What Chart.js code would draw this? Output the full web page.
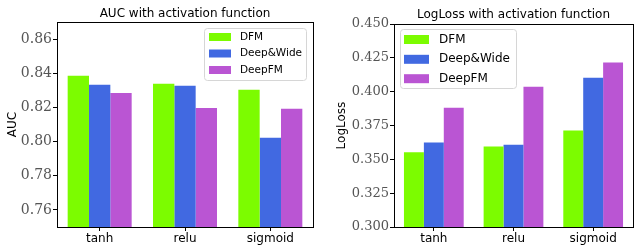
<!DOCTYPE html>
<html>
<head>
<meta charset="utf-8">
<script src="https://cdn.jsdelivr.net/npm/chart.js@4.4.0/dist/chart.umd.min.js"></script>
<style>
  html, body { margin: 0; padding: 0; background: #fff; }
  .box { position: absolute; top: 0; width: 320px; height: 246px; }
</style>
</head>
<body>
<div class="box" style="left:0"><canvas id="auc"></canvas></div>
<div class="box" style="left:320px"><canvas id="loss"></canvas></div>
<script>
var categories = ["tanh", "relu", "sigmoid"];
var seriesNames = ["DFM", "Deep&Wide", "DeepFM"];
var seriesColors = ["#7CFC00", "#4169E1", "#BA55D3"];

var aucDFM = [0.8385, 0.8338, 0.8303];
var aucDeepWide = [0.8332, 0.8327, 0.8023];
var aucDeepFM = [0.8285, 0.8197, 0.8192];
var aucTicks = [0.76, 0.78, 0.80, 0.82, 0.84, 0.86];

var lossDFM = [0.3552, 0.3594, 0.3713];
var lossDeepWide = [0.3624, 0.3608, 0.4103];
var lossDeepFM = [0.3882, 0.4037, 0.4216];
var lossTicks = [0.300, 0.325, 0.350, 0.375, 0.400, 0.425, 0.450];

Chart.defaults.font.family = "'DejaVu Sans', sans-serif";
Chart.defaults.color = "#000";

// matplotlib style frame + legend inside the axes
var framePlugin = {
  id: "frame",
  afterDraw: function (chart, args, opts) {
    var ctx = chart.ctx, a = chart.chartArea;
    ctx.save();
    ctx.strokeStyle = "#000";
    ctx.lineWidth = 1;
    ctx.strokeRect(Math.round(a.left) + 0.5, Math.round(a.top) + 0.5,
      Math.round(a.right - a.left), Math.round(a.bottom - a.top));

    var L = opts.legend;
    ctx.fillStyle = "rgba(255,255,255,0.8)";
    ctx.strokeStyle = "#d6d6d6";
    ctx.beginPath();
    ctx.roundRect(L.x + 0.5, L.y + 0.5, L.w, L.h, 3);
    ctx.fill();
    ctx.stroke();
    ctx.font = L.font + "px 'DejaVu Sans'";
    ctx.textBaseline = "middle";
    chart.data.datasets.forEach(function (ds, i) {
      var cy = L.rows[i];
      ctx.fillStyle = ds.backgroundColor;
      ctx.fillRect(L.sx, cy - L.sh / 2, L.sw, L.sh);
      ctx.fillStyle = "#000";
      ctx.fillText(ds.label, L.tx, cy);
    });
    ctx.restore();
  }
};

function makeChart(id, series, ticks, digits, yTitle, title, cfg) {
  new Chart(document.getElementById(id), {
    type: "bar",
    data: {
      labels: categories,
      datasets: series.map(function (vals, i) {
        return {
          label: seriesNames[i],
          data: vals,
          backgroundColor: seriesColors[i],
          barPercentage: 1.0,
          categoryPercentage: 0.75
        };
      })
    },
    options: {
      responsive: false,
      animation: false,
      layout: { padding: { left: 0, right: 7, top: 0, bottom: 0 } },
      plugins: {
        legend: { display: false },
        tooltip: { enabled: false },
        title: {
          display: true,
          text: title,
          fullSize: false,
          font: { size: 12, weight: "normal" },
          color: "#000",
          padding: cfg.titlePad
        },
        frame: { legend: cfg.legend }
      },
      scales: {
        x: {
          grid: { display: true, drawOnChartArea: false, offset: false, color: "#000", tickLength: 4 },
          border: { display: true, color: "#000" },
          ticks: { font: { size: 12 }, color: "#000", padding: 1, maxRotation: 0 },
          afterFit: function (s) { s.height = 19; }
        },
        y: {
          min: cfg.min,
          max: cfg.max,
          grid: { display: true, drawOnChartArea: false, color: "#000", tickLength: 4 },
          border: { display: true, color: "#000" },
          title: {
            display: true,
            text: yTitle,
            font: { size: 12 },
            color: "#000",
            padding: { top: cfg.yTitlePad, bottom: 0 }
          },
          ticks: {
            font: { family: "'DejaVu Serif', serif", size: cfg.tickFont },
            color: "#555",
            padding: 1,
            callback: function (v) { return Number(v).toFixed(digits); }
          },
          afterBuildTicks: function (s) {
            s.ticks = ticks.map(function (v) { return { value: v }; });
          },
          afterFit: function (s) { s.width = cfg.yWidth; }
        }
      }
    },
    plugins: [framePlugin]
  });
}

document.getElementById("auc").width = 320;
document.getElementById("auc").height = 246;
document.getElementById("loss").width = 320;
document.getElementById("loss").height = 246;

makeChart("auc", [aucDFM, aucDeepWide, aucDeepFM], aucTicks, 2, "AUC",
  "AUC with activation function", {
    min: 0.75, max: 0.87, yWidth: 57, yTitlePad: 6, tickFont: 14,
    titlePad: { top: 7, bottom: 0.6 },
    legend: { x: 204, y: 28, w: 102, h: 52, sx: 209, sw: 22, sh: 8,
      rows: [37, 53.5, 70], tx: 240, font: 10.5 }
  });

makeChart("loss", [lossDFM, lossDeepWide, lossDeepFM], lossTicks, 3, "LogLoss",
  "LogLoss with activation function", {
    min: 0.30, max: 0.45, yWidth: 74, yTitlePad: 14.5, tickFont: 13,
    titlePad: { top: 7.8, bottom: 1.8 },
    legend: { x: 80, y: 29, w: 116, h: 59, sx: 84, sw: 25, sh: 9,
      rows: [39.5, 59.3, 78.7], tx: 119, font: 12 }
  });
</script>
</body>
</html>
